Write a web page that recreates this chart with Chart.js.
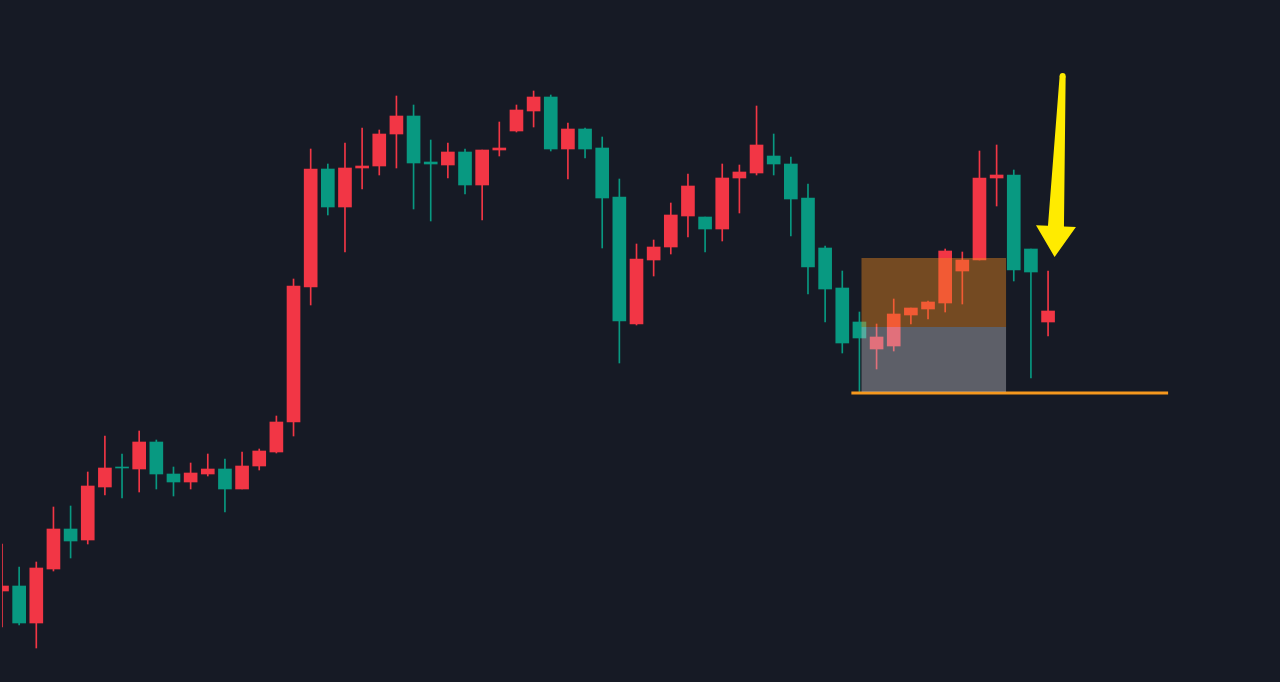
<!DOCTYPE html>
<html>
<head>
<meta charset="utf-8">
<title>Candles</title>
<script src="https://cdn.jsdelivr.net/npm/chart.js@4.4.1/dist/chart.umd.min.js"></script>
<style>
  html, body { margin: 0; padding: 0; background: #161a25; }
  #wrap { width: 1280px; height: 682px; }
</style>
</head>
<body>
<div id="wrap"><canvas id="chart"></canvas></div>
<script>
// OHLC, oldest first (price units)
const opens  = [91, 96, 59, 113, 153, 142, 195, 215, 213, 240, 208, 200, 208, 213, 193, 216, 230, 260, 395, 513,
                475, 514, 516, 548, 566, 520, 517, 530, 497, 532, 551, 571, 585, 533, 553, 534, 485, 358, 422, 435,
                466, 465, 453, 504, 509, 526, 518, 484, 434, 394, 360, 333, 336, 367, 373, 379, 411, 422, 504, 507,
                433, 360];
const highs  = [138, 115, 120, 175, 176, 210, 246, 228, 251, 242, 215, 219, 228, 223, 230, 233, 266, 403, 533, 518,
                539, 554, 552, 586, 577, 542, 539, 533, 532, 560, 577, 591, 587, 559, 554, 545, 503, 438, 442, 479,
                508, 465, 518, 517, 576, 548, 525, 498, 436, 411, 370, 358, 383, 374, 381, 433, 430, 531, 537, 512,
                433, 411];
const lows   = [55, 57, 34, 111, 124, 138, 187, 184, 190, 193, 186, 193, 206, 170, 193, 212, 229, 246, 377, 467,
                430, 493, 507, 514, 473, 461, 504, 488, 462, 526, 550, 555, 531, 503, 524, 434, 319, 357, 406, 428,
                445, 430, 441, 469, 507, 507, 446, 388, 360, 329, 290, 313, 331, 358, 363, 370, 378, 422, 476, 401,
                304, 346];
const closes = [96, 59, 114, 153, 141, 196, 214, 214, 240, 208, 200, 209, 213, 193, 216, 231, 260, 396, 513, 475,
                514, 516, 548, 566, 519, 518, 530, 497, 532, 534, 572, 585, 533, 553, 533, 484, 361, 423, 435, 467,
                496, 453, 504, 510, 537, 518, 483, 415, 393, 339, 344, 345, 368, 374, 380, 431, 422, 504, 507, 412,
                410, 371];

// empty slots to the right of the last candle
const futureSlots = 13;

// marked zone and level (candle index / price)
const zoneFrom = 50.12;
const zoneTo = 58.55;
const zoneTop = 424;
const zoneMid = 355;
const zoneBottom = 290;
const levelPrice = 289;
const levelFrom = 49.53;
const levelTo = 68;

// arrow pointing at the last candle
const arrowFrom = [61.85, 606];
const arrowTo = [61.38, 425];

const UP = "#f23645";
const DOWN = "#089981";

const labels = Array.from({ length: opens.length + futureSlots }, (_, i) => String(i + 1));
const bodies = opens.map((o, i) => [o, closes[i]]);
const wicks = lows.map((l, i) => [l, highs[i]]);

function candleColor(ctx) {
  const i = ctx.dataIndex;
  return closes[i] >= opens[i] ? UP : DOWN;
}

const overlays = {
  id: "overlays",
  afterDatasetsDraw(chart) {
    const { ctx } = chart;
    const x = chart.scales.x;
    const y = chart.scales.y;
    ctx.save();

    // level line (sits under the zone)
    ctx.strokeStyle = "#f5981e";
    ctx.lineWidth = 3;
    ctx.beginPath();
    ctx.moveTo(x.getPixelForValue(levelFrom), y.getPixelForValue(levelPrice));
    ctx.lineTo(x.getPixelForValue(levelTo), y.getPixelForValue(levelPrice));
    ctx.stroke();

    // zone
    const zl = x.getPixelForValue(zoneFrom);
    const zr = x.getPixelForValue(zoneTo);
    const yt = y.getPixelForValue(zoneTop);
    const ym = y.getPixelForValue(zoneMid);
    const yb = y.getPixelForValue(zoneBottom);
    ctx.fillStyle = "rgba(240, 140, 30, 0.43)";
    ctx.fillRect(zl, yt, zr - zl, ym - yt);
    ctx.fillStyle = "rgba(200, 200, 205, 0.40)";
    ctx.fillRect(zl, ym, zr - zl, yb - ym);

    // arrow
    const tx = x.getPixelForValue(arrowFrom[0]), ty = y.getPixelForValue(arrowFrom[1]);
    const px = x.getPixelForValue(arrowTo[0]), py = y.getPixelForValue(arrowTo[1]);
    const len = Math.hypot(px - tx, py - ty);
    const dx = (px - tx) / len, dy = (py - ty) / len;
    const nx = -dy, ny = dx;
    const headLen = 31, headHalf = 20, topHalf = 3, baseHalf = 8;
    const hx = px - dx * headLen, hy = py - dy * headLen;
    ctx.fillStyle = "#ffeb00";
    ctx.beginPath();
    ctx.moveTo(tx + nx * topHalf, ty + ny * topHalf);
    ctx.lineTo(hx + nx * baseHalf, hy + ny * baseHalf);
    ctx.lineTo(hx + nx * headHalf, hy + ny * headHalf);
    ctx.lineTo(px, py);
    ctx.lineTo(hx - nx * headHalf, hy - ny * headHalf);
    ctx.lineTo(hx - nx * baseHalf, hy - ny * baseHalf);
    ctx.lineTo(tx - nx * topHalf, ty - ny * topHalf);
    ctx.closePath();
    ctx.fill();
    ctx.beginPath();
    ctx.arc(tx, ty, topHalf, 0, Math.PI * 2);
    ctx.fill();

    ctx.restore();
  },
};

new Chart(document.getElementById("chart"), {
  type: "bar",
  data: {
    labels,
    datasets: [
      {
        label: "body",
        data: bodies,
        backgroundColor: candleColor,
        barThickness: 13,
        minBarLength: 1,
        grouped: false,
      },
      {
        label: "wick",
        data: wicks,
        backgroundColor: candleColor,
        barThickness: 1,
        grouped: false,
      },
    ],
  },
  options: {
    responsive: true,
    maintainAspectRatio: false,
    animation: false,
    devicePixelRatio: 1,
    layout: { padding: { left: 2, right: 9, top: 0, bottom: 0 } },
    plugins: {
      legend: { display: false },
      tooltip: { enabled: false },
    },
    scales: {
      x: { display: false, offset: false },
      y: { display: false, min: 0, max: 682 },
    },
  },
  plugins: [overlays],
});
</script>
</body>
</html>
